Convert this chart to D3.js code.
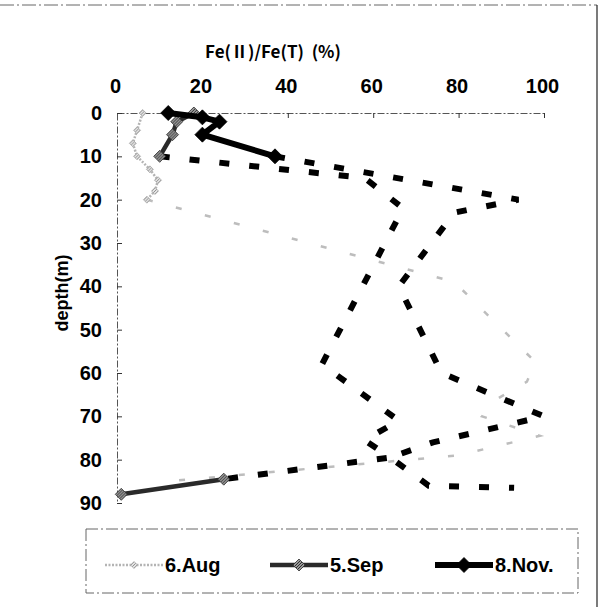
<!DOCTYPE html>
<html>
<head>
<meta charset="utf-8">
<script src="https://cdn.jsdelivr.net/npm/d3@7"></script>
<style>
    body { margin: 0; background: #fff; }
    text { font-family: "Liberation Sans", Arial, sans-serif; font-weight: bold; fill: #000; }
</style>
</head>
<body>
<svg id="chart" width="601" height="607"></svg>
<script>
// values
const xTicks = [0, 20, 40, 60, 80, 100];
const yTicks = [0, 10, 20, 30, 40, 50, 60, 70, 80, 90];
const seriesNames = ['6.Aug', '5.Sep', '8.Nov.'];

const augDepth = [0, 4, 7, 10, 13, 15.5, 18, 20, 39, 57.5, 62, 66, 70, 74.5, 79, 85];
const augValue = [6, 4.7, 3.7, 4.7, 7.7, 9.6, 8.9, 7, 79, 98, 96, 89, 85.5, 99, 80, 12];

const sepDepth = [0, 2, 5, 10, 15, 22, 58, 71, 75.5, 79.5, 84.5, 88];
const sepValue = [18, 14, 13, 10, 58, 67, 48, 66, 58, 64, 25, 1];

const novDepth = [0, 1, 2, 5, 10, 20, 23, 40, 60, 70, 76, 79.5, 86, 86.5];
const novValue = [12, 20, 24, 20, 37, 94, 79, 66, 76, 100, 74, 64, 73, 93];

// which point ranges are drawn as solid (measured) segments with markers
const augSolid = [[0, 7]];
const sepSolid = [[0, 3], [10, 11]];
const novSolid = [[0, 4]];

const svg = d3.select('#chart');

// hatch fills for the grey markers
const defs = svg.append('defs');
const hatch = (id, bg, fg) => {
    const p = defs.append('pattern').attr('id', id)
        .attr('width', 3).attr('height', 3).attr('patternUnits', 'userSpaceOnUse');
    p.append('rect').attr('width', 3).attr('height', 3).attr('fill', bg);
    p.append('path').attr('d', 'M0,3L3,0M-1,1L1,-1M2,4L4,2').attr('stroke', fg).attr('stroke-width', 0.9);
};
hatch('hatchDark', '#9a9a9a', '#222');
hatch('hatchLight', '#e4e4e4', '#888');

// outer frame of the figure (scanned)
svg.append('line').attr('x1', 0).attr('x2', 597).attr('y1', 5).attr('y2', 5)
    .attr('stroke', '#666').attr('stroke-width', 1).attr('stroke-dasharray', '14,3,2,3');
svg.append('line').attr('x1', 597).attr('x2', 597).attr('y1', 5).attr('y2', 607)
    .attr('stroke', '#222').attr('stroke-width', 1.2);

const x = d3.scaleLinear().domain([0, 100]).range([117, 544]);
const y = d3.scaleLinear().domain([0, 90]).range([113, 503]);

// top axis
const xAxis = svg.append('g').attr('transform', `translate(0,${y(0)})`)
    .call(d3.axisTop(x).tickValues(xTicks).tickSize(-5).tickSizeOuter(0).tickPadding(20));
xAxis.selectAll('text').attr('font-size', 20).attr('dx', -2).style('font-family', '"Liberation Sans", Arial, sans-serif').style('font-weight', 'bold');

// left axis
const yAxis = svg.append('g').attr('transform', `translate(${x(0)},0)`)
    .call(d3.axisLeft(y).tickValues(yTicks).tickSize(-5).tickSizeOuter(0).tickPadding(15));
yAxis.selectAll('text').attr('font-size', 20).style('font-family', '"Liberation Sans", Arial, sans-serif').style('font-weight', 'bold');

svg.selectAll('.domain').attr('stroke', '#555').attr('stroke-width', 1).attr('stroke-dasharray', '7,2,2,2');
svg.selectAll('.tick line').attr('stroke', '#333').attr('stroke-width', 1);

svg.append('text').attr('x', 273).attr('y', 58).attr('text-anchor', 'middle')
    .attr('font-size', 17).style('white-space', 'pre')
    .style('font-family', '"Noto Sans CJK JP", sans-serif').style('font-weight', 'bold')
    .text('Fe(Ⅱ)/Fe(T)  (%)');

svg.append('text').attr('transform', 'translate(68,293) rotate(-90)')
    .attr('text-anchor', 'middle').attr('font-size', 18).text('depth(m)');

const diamond = r => `M0,${-r}L${r},0L0,${r}L${-r},0Z`;
const line = d3.line().x(d => x(d.v)).y(d => y(d.d));

const series = [
    { name: seriesNames[0], depth: augDepth, value: augValue, solid: augSolid,
      solidStroke: '#b4b4b4', solidWidth: 2.5, solidDash: '2,1.5',
      dashStroke: '#bdbdbd', dashWidth: 2.5, dashPattern: '6,24',
      marker: 'url(#hatchLight)', markerStroke: '#aaa', r: 3.5 },
    { name: seriesNames[1], depth: sepDepth, value: sepValue, solid: sepSolid,
      solidStroke: '#2a2a2a', solidWidth: 4.5, solidDash: null,
      dashStroke: '#000', dashWidth: 6, dashPattern: '10,20',
      marker: 'url(#hatchDark)', markerStroke: '#333', r: 6 },
    { name: seriesNames[2], depth: novDepth, value: novValue, solid: novSolid,
      solidStroke: '#000', solidWidth: 6, solidDash: null,
      dashStroke: '#000', dashWidth: 6, dashPattern: '10,20',
      marker: '#000', markerStroke: '#000', r: 7.5 }
];

series.forEach(s => {
    const pts = s.depth.map((d, i) => ({ d, v: s.value[i] }));
    const inSolid = i => s.solid.some(([a, b]) => i >= a && i <= b);

    // dashed stretches: every segment whose ends are not both inside a solid range
    let run = [];
    const runs = [];
    for (let i = 0; i < pts.length - 1; i++) {
        const solidSeg = s.solid.some(([a, b]) => i >= a && i + 1 <= b);
        if (!solidSeg) {
            if (!run.length) run.push(pts[i]);
            run.push(pts[i + 1]);
        } else if (run.length) { runs.push(run); run = []; }
    }
    if (run.length) runs.push(run);

    runs.forEach(r => svg.append('path').attr('d', line(r))
        .attr('fill', 'none').attr('stroke', s.dashStroke)
        .attr('stroke-width', s.dashWidth).attr('stroke-dasharray', s.dashPattern));

    s.solid.forEach(([a, b]) => svg.append('path').attr('d', line(pts.slice(a, b + 1)))
        .attr('fill', 'none').attr('stroke', s.solidStroke).attr('stroke-width', s.solidWidth)
        .attr('stroke-dasharray', s.solidDash).attr('stroke-linejoin', 'round'));

    svg.append('g').selectAll('path').data(pts.filter((p, i) => inSolid(i))).join('path')
        .attr('transform', d => `translate(${x(d.v)},${y(d.d)})`)
        .attr('d', diamond(s.r)).attr('fill', s.marker)
        .attr('stroke', s.markerStroke).attr('stroke-width', 0.8);
});

// legend
const legend = svg.append('g');
legend.append('rect').attr('x', 86).attr('y', 529).attr('width', 492).attr('height', 64)
    .attr('fill', 'none').attr('stroke', '#666').attr('stroke-width', 1).attr('stroke-dasharray', '12,3,2,3');

const legendX = [105, 270, 435];
series.forEach((s, i) => {
    const g = legend.append('g').attr('transform', `translate(${legendX[i]},565)`);
    g.append('line').attr('x1', 0).attr('x2', 58)
        .attr('stroke', s.solidStroke).attr('stroke-width', s.solidWidth)
        .attr('stroke-dasharray', s.solidDash);
    g.append('path').attr('transform', 'translate(29,0)').attr('d', diamond(s.r))
        .attr('fill', s.marker).attr('stroke', s.markerStroke).attr('stroke-width', 0.8);
    g.append('text').attr('x', 60).attr('y', 7).attr('font-size', 20).text(s.name);
});
</script>
</body>
</html>
